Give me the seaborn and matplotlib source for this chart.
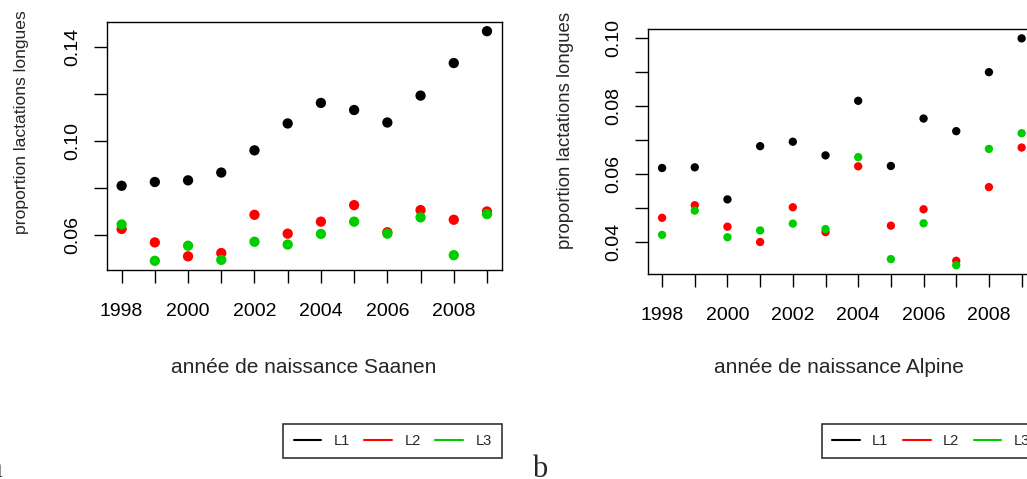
import matplotlib
matplotlib.use("Agg")
import matplotlib.pyplot as plt
from matplotlib.lines import Line2D
import numpy as np
import pandas as pd
import seaborn as sns

# DATA
years = list(range(1998, 2010))

saanen_L1 = [0.0810, 0.0826, 0.0833, 0.0866, 0.0960, 0.1074, 0.1161, 0.1131, 0.1078, 0.1192, 0.1330, 0.1465]
saanen_L2 = [0.0627, 0.0570, 0.0511, 0.0525, 0.0687, 0.0607, 0.0658, 0.0728, 0.0613, 0.0707, 0.0666, 0.0701]
saanen_L3 = [0.0646, 0.0492, 0.0556, 0.0496, 0.0573, 0.0561, 0.0606, 0.0658, 0.0607, 0.0676, 0.0516, 0.0690]

alpine_L1 = [0.0618, 0.0620, 0.0526, 0.0682, 0.0695, 0.0655, 0.0815, 0.0624, 0.0763, 0.0726, 0.0899, 0.0998]
alpine_L2 = [0.0472, 0.0509, 0.0446, 0.0401, 0.0503, 0.0430, 0.0623, 0.0449, 0.0497, 0.0346, 0.0562, 0.0678]
alpine_L3 = [0.0422, 0.0493, 0.0415, 0.0435, 0.0455, 0.0439, 0.0650, 0.0351, 0.0456, 0.0333, 0.0674, 0.0720]

series = ["L1", "L2", "L3"]
colors = {"L1": "black", "L2": "#FF0000", "L3": "#00CD00"}


def long_df(l1, l2, l3):
    rows = []
    for name, vals in zip(series, [l1, l2, l3]):
        for y, v in zip(years, vals):
            rows.append({"annee": y, "prop": v, "lact": name})
    return pd.DataFrame(rows)


df_s = long_df(saanen_L1, saanen_L2, saanen_L3)
df_a = long_df(alpine_L1, alpine_L2, alpine_L3)

sns.set_style("ticks")
plt.rcParams["font.family"] = ["Liberation Sans", "DejaVu Sans"]

W, H = 1027, 479
fig = plt.figure(figsize=(W / 100, H / 100), dpi=100)


def px_axes(left, top, right, bottom):
    return fig.add_axes([left / W, 1 - bottom / H, (right - left) / W, (bottom - top) / H])


def r_limits(vals):
    # R default: 4% padding on each side
    lo, hi = min(vals), max(vals)
    d = (hi - lo) * 0.04
    return lo - d, hi + d


def style_axes(ax, yticks, ylabels, ylim):
    ax.set_xlim(1997.56, 2009.44)
    ax.set_ylim(*ylim)
    ax.set_xticks(years)
    ax.set_xticklabels([str(y) if y % 2 == 0 else "" for y in years])
    ax.set_yticks(yticks)
    ax.set_yticklabels(ylabels, rotation=90, va="center")
    ax.tick_params(axis="both", direction="out", length=9.5, width=1, colors="black",
                   labelsize=14)
    ax.tick_params(axis="x", pad=14)
    ax.tick_params(axis="y", pad=9)
    for sp in ax.spines.values():
        sp.set_visible(True)
        sp.set_linewidth(1.0)
        sp.set_color("black")
    ax.set_xlabel("")
    ax.set_ylabel("")


# PANEL A : SAANEN
axA = px_axes(107, 22, 501.6, 270)
sns.scatterplot(data=df_s, x="annee", y="prop", hue="lact", palette=colors,
                s=55, edgecolor="none", legend=False, ax=axA)
style_axes(axA, [0.06, 0.08, 0.10, 0.12, 0.14], ["0.06", "", "0.10", "", "0.14"],
           r_limits(saanen_L1 + saanen_L2 + saanen_L3))

# PANEL B : ALPINE
axB = px_axes(647.7, 29.3, 1036, 274.3)
sns.scatterplot(data=df_a, x="annee", y="prop", hue="lact", palette=colors,
                s=36, edgecolor="none", legend=False, ax=axB)
style_axes(axB, [0.04, 0.05, 0.06, 0.07, 0.08, 0.09, 0.10],
           ["0.04", "", "0.06", "", "0.08", "", "0.10"],
           r_limits(alpine_L1 + alpine_L2 + alpine_L3))

# AXIS LABELS
fig.text(22 / W, 1 - 122 / H, "proportion lactations longues", rotation=90,
         ha="center", va="center", fontsize=12.6)
fig.text(566 / W, 1 - 130 / H, "proportion lactations longues", rotation=90,
         ha="center", va="center", fontsize=13.4)
fig.text(304 / W, 1 - 373 / H, "année de naissance Saanen", ha="center",
         va="baseline", fontsize=15)
fig.text(839 / W, 1 - 373 / H, "année de naissance Alpine", ha="center",
         va="baseline", fontsize=15)

# LEGENDS
handles = [Line2D([], [], color=colors[k], lw=1.5) for k in series]
for x0 in (283.3, 821.7):
    leg = fig.legend(handles, series, loc="upper left",
                     bbox_to_anchor=(x0 / W, 1 - 423.5 / H), ncol=3,
                     fontsize=10.5, frameon=True, fancybox=False, borderaxespad=0,
                     handlelength=1.9, handletextpad=0.85, columnspacing=1.0,
                     borderpad=0.7)
    leg.get_frame().set_edgecolor("black")
    leg.get_frame().set_linewidth(1.2)

# PANEL LETTERS
fig.text(3 / W, 1 - 477 / H, "a", ha="right", va="baseline", fontsize=22,
         family="Liberation Serif")
fig.text(532 / W, 1 - 477 / H, "b", ha="left", va="baseline", fontsize=22,
         family="Liberation Serif")

fig.savefig("out.png", dpi=100)
